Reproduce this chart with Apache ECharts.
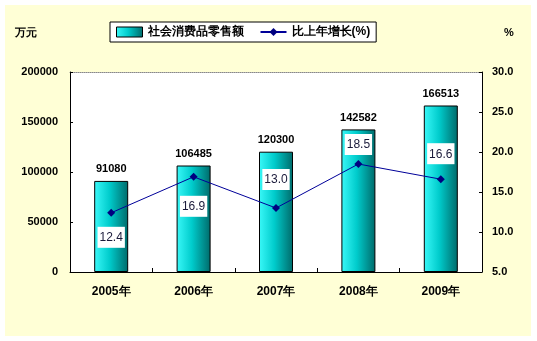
<!DOCTYPE html>
<html>
<head>
<meta charset="utf-8">
<script src="https://cdn.jsdelivr.net/npm/echarts@6/dist/echarts.min.js"></script>
<style>
  html, body { margin: 0; padding: 0; background: #fff; }
  #chart { width: 537px; height: 341px; }
</style>
</head>
<body>
<div id="chart"></div>
<script>
// Retail sales of consumer goods (万元) and year-on-year growth (%)
const years = ['2005年', '2006年', '2007年', '2008年', '2009年'];
const retailSales = [91080, 106485, 120300, 142582, 166513];
const growthRate = [12.4, 16.9, 13.0, 18.5, 16.6];
const leftTicks = { min: 0, max: 200000, interval: 50000 };
const rightTicks = { min: 5, max: 30, interval: 5 };

// where each growth label sits relative to its point
const growthLabelPlace = [
  { position: 'bottom', distance: 10 },
  { position: 'bottom', distance: 15 },
  { position: 'top', distance: 14 },
  { position: 'top', distance: 5 },
  { position: 'top', distance: 11 }
];

const barFill = new echarts.graphic.LinearGradient(0, 0, 1, 0, [
  { offset: 0, color: '#3af8f8' },
  { offset: 0.45, color: '#00cccc' },
  { offset: 1, color: '#006a6a' }
]);

const tickFont = { color: '#000', fontFamily: 'Arial', fontWeight: 'bold', fontSize: 11 };

const chart = echarts.init(document.getElementById('chart'), null, { renderer: 'canvas' });
chart.setOption({
  animation: false,
  backgroundColor: '#ffffff',
  graphic: [{
    type: 'rect', z: -10, silent: true,
    shape: { x: 5, y: 5, width: 526, height: 331 },
    style: { fill: '#ffffd6' }
  }],
  legend: {
    left: 110, top: 22,
    backgroundColor: '#ffffff',
    borderColor: '#000', borderWidth: 1,
    padding: [4, 6, 4, 6],
    itemGap: 16,
    itemWidth: 26, itemHeight: 10,
    textStyle: { color: '#000', fontWeight: 'bold', fontSize: 12, fontFamily: 'Arial' },
    data: [
      { name: '社会消费品零售额', icon: 'rect', itemStyle: { color: barFill, borderColor: '#000', borderWidth: 1 } },
      { name: '比上年增长(%)' }
    ]
  },
  grid: {
    left: 70, right: 55, top: 72, bottom: 69,
    show: true, backgroundColor: '#ffffff', borderWidth: 0
  },
  xAxis: [{
    type: 'category', data: years, position: 'bottom',
    axisLine: { lineStyle: { color: '#000', width: 1 } },
    axisTick: { show: true, inside: true, length: 4, lineStyle: { color: '#000' } },
    axisLabel: Object.assign({}, tickFont, { fontSize: 12, margin: 14 })
  }, {
    type: 'category', data: years, position: 'top',
    axisLine: { lineStyle: { color: '#888', type: 'dotted', width: 1 } },
    axisTick: { show: false }, axisLabel: { show: false }
  }],
  yAxis: [{
    type: 'value', position: 'left',
    min: leftTicks.min, max: leftTicks.max, interval: leftTicks.interval,
    name: '万元', nameLocation: 'end', nameGap: 34,
    nameTextStyle: Object.assign({}, tickFont, { align: 'right', padding: [0, 33, 0, 0] }),
    axisLine: { show: true, lineStyle: { color: '#000', width: 1 } },
    axisTick: { show: true, inside: true, length: 3, lineStyle: { color: '#000' } },
    splitLine: { show: false },
    axisLabel: Object.assign({}, tickFont, { margin: 12, formatter: v => String(v) })
  }, {
    type: 'value', position: 'right',
    min: rightTicks.min, max: rightTicks.max, interval: rightTicks.interval,
    name: '%', nameLocation: 'end', nameGap: 34,
    nameTextStyle: Object.assign({}, tickFont, { align: 'left', padding: [0, 0, 0, 22] }),
    axisLine: { show: true, lineStyle: { color: '#000', width: 1 } },
    axisTick: { show: true, inside: true, length: 3, lineStyle: { color: '#000' } },
    splitLine: { show: false },
    axisLabel: Object.assign({}, tickFont, {
      margin: 10,
      formatter: v => v.toFixed(1)
    })
  }],
  series: [{
    name: '社会消费品零售额',
    type: 'bar',
    data: retailSales,
    barWidth: 34,
    itemStyle: { color: barFill, borderColor: '#000', borderWidth: 1 },
    label: {
      show: true, position: 'top', distance: 6,
      color: '#000', fontFamily: 'Arial', fontWeight: 'bold', fontSize: 11
    }
  }, {
    name: '比上年增长(%)',
    type: 'line',
    yAxisIndex: 1,
    data: growthRate.map((v, i) => ({
      value: v,
      label: growthLabelPlace[i]
    })),
    symbol: 'diamond', symbolSize: 8,
    lineStyle: { color: '#000099', width: 1 },
    itemStyle: { color: '#000080' },
    label: {
      show: true,
      formatter: p => p.value.toFixed(1),
      backgroundColor: '#ffffff',
      padding: [5, 2, 4, 2],
      color: '#1a1a3a', fontFamily: 'Arial', fontSize: 12
    },
    z: 5
  }]
});
</script>
</body>
</html>
